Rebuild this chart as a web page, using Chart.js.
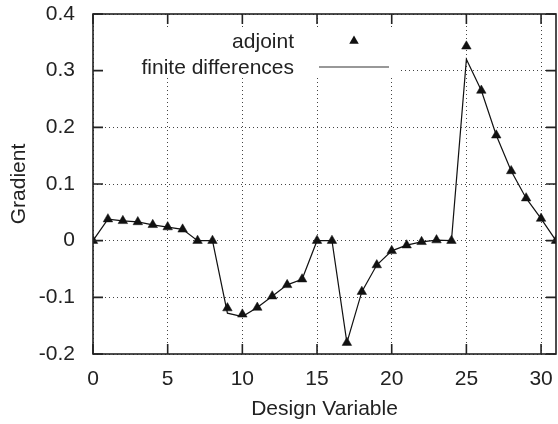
<!DOCTYPE html>
<html><head><meta charset="utf-8">
<script src="https://cdn.jsdelivr.net/npm/chart.js@4.4.1/dist/chart.umd.min.js"></script>
<style>html,body{margin:0;padding:0;overflow:hidden;background:#fff}</style>
</head><body>
<canvas id="c" width="562" height="424" style="display:block;width:562px;height:424px"></canvas>
<script>
// ---- data ----
const designVariables = [0,1,2,3,4,5,6,7,8,9,10,11,12,13,14,15,16,17,18,19,20,21,22,23,24,25,26,27,28,29,30,31];
const adjointValues = [0, 0.038, 0.035, 0.033, 0.028, 0.024, 0.020, 0, 0, -0.119, -0.130, -0.118, -0.098, -0.078, -0.068, 0, 0, -0.180, -0.090, -0.043, -0.018, -0.008, -0.002, 0.001, 0, 0.343, 0.265, 0.186, 0.123, 0.075, 0.039, 0];
const finiteDiffValues = [0, 0.038, 0.035, 0.033, 0.028, 0.024, 0.020, 0, 0, -0.128, -0.134, -0.118, -0.098, -0.078, -0.068, 0, 0, -0.180, -0.090, -0.043, -0.018, -0.008, -0.002, 0.001, 0, 0.320, 0.265, 0.186, 0.123, 0.075, 0.039, 0];
const xTickValues = [0, 5, 10, 15, 20, 25, 30];
const yTickValues = [-0.2, -0.1, 0, 0.1, 0.2, 0.3, 0.4];
const yTickLabels = ['-0.2', '-0.1', '0', '0.1', '0.2', '0.3', '0.4'];
const seriesNames = ['adjoint', 'finite differences'];
const xTitle = 'Design Variable';
const yTitle = 'Gradient';

const FONT = '"Liberation Sans", Arial, Helvetica, sans-serif';
const FS = 21;
const TXT = '#222';

function triPath(ctx, x, y, r) {
  const h = r * 1.5, w = r * Math.sqrt(3);
  ctx.beginPath();
  ctx.moveTo(x, y - r);
  ctx.lineTo(x + w / 2, y - r + h);
  ctx.lineTo(x - w / 2, y - r + h);
  ctx.closePath();
}

const keyPlugin = {
  id: 'gnuKey',
  beforeDatasetsDraw(chart) {
    const ctx = chart.ctx;
    ctx.save();
    ctx.fillStyle = '#fff';
    ctx.fillRect(95, 29, 305, 49);
    ctx.font = FS + 'px ' + FONT;
    ctx.fillStyle = TXT;
    ctx.textAlign = 'right';
    ctx.textBaseline = 'middle';
    ctx.fillText(seriesNames[0], 294, 42);
    ctx.fillText(seriesNames[1], 294, 68);
    ctx.fillStyle = '#111';
    triPath(ctx, 354, 41, 5.5);
    ctx.fill();
    ctx.strokeStyle = '#333';
    ctx.lineWidth = 1.2;
    ctx.beginPath();
    ctx.moveTo(319, 67);
    ctx.lineTo(389, 67);
    ctx.stroke();
    ctx.restore();
  },
  afterDraw(chart) {
    const ctx = chart.ctx;
    const a = chart.chartArea;
    const xs = chart.scales.x, ys = chart.scales.y;
    const TL = 10;
    ctx.save();
    ctx.strokeStyle = '#222';
    ctx.lineWidth = 1.6;
    ctx.strokeRect(a.left, a.top, a.right - a.left, a.bottom - a.top);
    ctx.beginPath();
    xTickValues.forEach(v => {
      const px = xs.getPixelForValue(v);
      ctx.moveTo(px, a.bottom); ctx.lineTo(px, a.bottom - TL);
      ctx.moveTo(px, a.top); ctx.lineTo(px, a.top + TL);
    });
    yTickValues.forEach(v => {
      const py = ys.getPixelForValue(v);
      ctx.moveTo(a.left, py); ctx.lineTo(a.left + TL, py);
      ctx.moveTo(a.right, py); ctx.lineTo(a.right - TL, py);
    });
    ctx.stroke();
    ctx.restore();
  }
};

new Chart(document.getElementById('c'), {
  type: 'scatter',
  data: {
    datasets: [
      {
        label: seriesNames[0],
        data: designVariables.map((x, i) => ({x: x, y: adjointValues[i]})),
        showLine: false,
        pointStyle: 'triangle',
        pointRadius: 5.5,
        pointBackgroundColor: '#111',
        pointBorderColor: '#111',
        pointBorderWidth: 0.5,
        order: 0
      },
      {
        label: seriesNames[1],
        data: designVariables.map((x, i) => ({x: x, y: finiteDiffValues[i]})),
        showLine: true,
        pointRadius: 0,
        borderColor: '#111',
        borderWidth: 1.2,
        tension: 0,
        order: 1
      }
    ]
  },
  options: {
    responsive: false,
    animation: false,
    events: [],
    layout: {padding: {top: 14, right: 2, left: 0, bottom: 0}},
    plugins: {legend: {display: false}, tooltip: {enabled: false}},
    scales: {
      x: {
        type: 'linear', min: 0, max: 31,
        afterBuildTicks: s => { s.ticks = xTickValues.map(v => ({value: v})); },
        afterFit: s => { s.height = 70; s.paddingLeft = 0; s.paddingRight = 0; },
        ticks: {color: TXT, font: {family: FONT, size: FS}, padding: 13, maxRotation: 0,
                callback: v => String(v)},
        grid: {drawTicks: false, color: '#444', lineWidth: 1},
        border: {display: false, dash: [1, 3]},
        title: {display: true, text: xTitle, color: TXT, font: {family: FONT, size: FS}, padding: {top: 0, bottom: 2}}
      },
      y: {
        type: 'linear', min: -0.2, max: 0.4,
        afterBuildTicks: s => { s.ticks = yTickValues.map(v => ({value: v})); },
        afterFit: s => { s.width = 93; s.paddingTop = 0; s.paddingBottom = 0; },
        ticks: {color: TXT, font: {family: FONT, size: FS}, padding: 18,
                callback: (v, i) => yTickLabels[i]},
        grid: {drawTicks: false, color: '#444', lineWidth: 1},
        border: {display: false, dash: [1, 3]},
        title: {display: true, text: yTitle, color: TXT, font: {family: FONT, size: FS}, padding: {top: 7, bottom: 0}}
      }
    }
  },
  plugins: [keyPlugin]
});
</script>
</body></html>
